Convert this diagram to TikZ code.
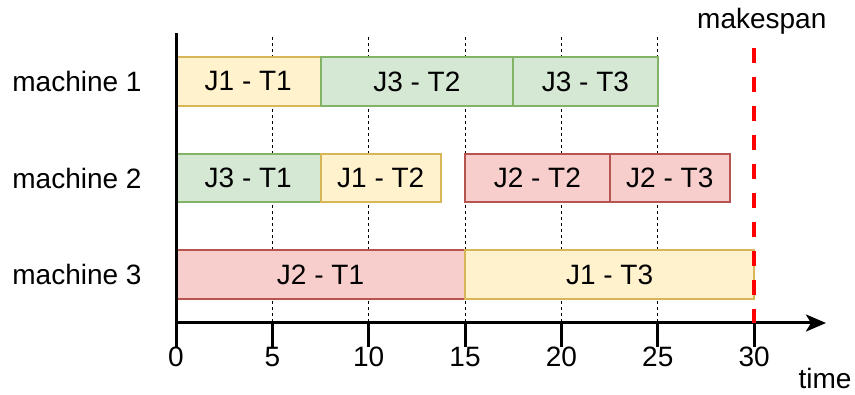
\documentclass[tikz,border=0pt]{standalone}
\usepackage{fontspec}
\setmainfont{Liberation Sans}
\usetikzlibrary{arrows.meta,fit}
\definecolor{yelFill}{HTML}{FFF2CC}
\definecolor{yelLine}{HTML}{D6B656}
\definecolor{grnFill}{HTML}{D5E8D4}
\definecolor{grnLine}{HTML}{82B366}
\definecolor{redFill}{HTML}{F8CECC}
\definecolor{redLine}{HTML}{B85450}
\definecolor{spanRed}{HTML}{FF0000}
\begin{document}
\begin{tikzpicture}[x=1pt,y=-1pt,
  font=\fontsize{28}{33}\selectfont,
  bar/.style={line width=2pt, inner sep=0pt},
  jobA/.style={bar, fill=yelFill, draw=yelLine},
  jobB/.style={bar, fill=grnFill, draw=grnLine},
  jobC/.style={bar, fill=redFill, draw=redLine},
  axisline/.style={line width=3pt, black},
  gridline/.style={line width=1pt, dash pattern=on 3pt off 3pt},
  spanline/.style={line width=4pt, spanRed, dash pattern=on 15pt off 14pt},
  ]
\useasboundingbox (0,0) rectangle (855,395);

% machine labels
\node (m1) at (77,81) {machine 1};
\node (m2) at (77,178) {machine 2};
\node (m3) at (77,274.5) {machine 3};

% time axis in schedule units
\begin{scope}[shift={(176,0)}, x=19.27pt]
  % dashed grid
  \foreach \t in {5,10,...,25}
    \draw[gridline] (\t,37) -- (\t,323);

  % task bars: box first, then its caption on the centre
  \foreach \style/\name/\ta/\tb/\ya/\yb/\txt in {
      jobA/b11/0/7.5/57/106/J1 - T1,
      jobB/b12/7.5/17.5/57/106/J3 - T2,
      jobB/b13/17.5/25/57/106/J3 - T3,
      jobB/b21/0/7.5/154/202/J3 - T1,
      jobA/b22/7.5/13.75/154/202/J1 - T2,
      jobC/b23/15/22.5/154/202/J2 - T2,
      jobC/b24/22.5/28.75/154/202/J2 - T3,
      jobC/b31/0/15/250/299/J2 - T1,
      jobA/b32/15/30/250/299/J1 - T3} {
    \node[\style, fit={(\ta,\ya) (\tb,\yb)}] (\name) {};
    \node (\name-txt) at (\name.center) {\txt};
  }

  % axes
  \coordinate (ytop) at (0,33);
  \coordinate (ybot) at (0,347);
  \coordinate (orig) at (0,323);
  \coordinate (xend) at (33.73,323);
  \draw[axisline] (ytop) -- (ybot);
  \draw[axisline, -{Stealth[length=20pt,width=17pt,inset=5pt]}] (orig) -- (xend);
  \foreach \t in {5,10,...,30} {
    \coordinate (ta\t) at (\t,323);
    \coordinate (tb\t) at (\t,347);
    \draw[axisline] (ta\t) -- (tb\t);
  }
  \foreach \t in {0,5,...,30}
    \node[anchor=base, inner sep=0pt] (lab\t) at (\t,367) {\t};

  % makespan
  \coordinate (spanTop) at (30,48);
  \coordinate (spanBot) at (30,323);
  \draw[spanline] (spanTop) -- (spanBot);
  \node[anchor=base, inner sep=0pt] (span) at (30.4,29) {makespan};
\end{scope}

\node[anchor=base, inner sep=0pt] (time) at (825,389) {time};
\end{tikzpicture}
\end{document}
